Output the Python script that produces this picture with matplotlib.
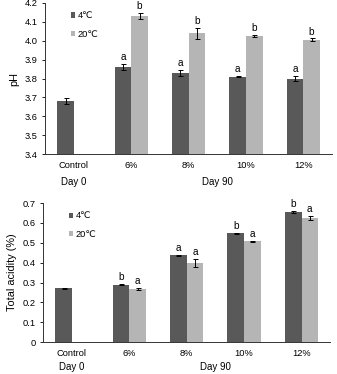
import matplotlib
matplotlib.use("Agg")
import matplotlib.pyplot as plt
import numpy as np

plt.rcParams['font.family'] = ['Liberation Sans', 'DejaVu Sans']

categories = ["Control", "6%", "8%", "10%", "12%"]
series_names = ["4℃", "20℃"]

ph_4 = [3.68, 3.86, 3.83, 3.81, 3.80]
ph_4_err = [0.015, 0.015, 0.015, 0.003, 0.015]
ph_20 = [None, 4.13, 4.04, 4.025, 4.005]
ph_20_err = [None, 0.015, 0.03, 0.007, 0.007]
ph_4_letters = ["", "a", "a", "a", "a"]
ph_20_letters = ["", "b", "b", "b", "b"]

ac_4 = [0.272, 0.29, 0.437, 0.548, 0.655]
ac_4_err = [0.002, 0.002, 0.003, 0.003, 0.004]
ac_20 = [None, 0.266, 0.40, 0.508, 0.627]
ac_20_err = [None, 0.005, 0.02, 0.003, 0.01]
ac_4_letters = ["", "b", "a", "b", "b"]
ac_20_letters = ["", "a", "a", "a", "a"]

dark = "#595959"
light = "#b5b5b5"

fig = plt.figure(figsize=(3.37, 3.74), dpi=100)
ax1 = fig.add_axes([0.134, 0.588, 0.851, 0.404])
ax2 = fig.add_axes([0.128, 0.085, 0.852, 0.372])

w = 0.29
fs = 6.7


def draw(ax, v4, e4, v20, e20, l4, l20, ylim, yticks, fmt, ylabel, offs, day_off):
    x = np.arange(len(categories))
    for i in range(len(categories)):
        ax.bar(x[i] - w / 2, v4[i], w, color=dark, label=series_names[0] if i == 0 else None, zorder=2)
        ax.errorbar(x[i] - w / 2, v4[i], yerr=e4[i], fmt='none', ecolor='black', elinewidth=0.7, capsize=1.8, capthick=0.7, zorder=3)
        if l4[i]:
            ax.text(x[i] - w / 2, v4[i] + e4[i] + offs, l4[i], ha='center', va='bottom', fontsize=7.2)
        if v20[i] is not None:
            ax.bar(x[i] + w / 2, v20[i], w, color=light, label=series_names[1] if i == 1 else None, zorder=2)
            ax.errorbar(x[i] + w / 2, v20[i], yerr=e20[i], fmt='none', ecolor='black', elinewidth=0.7, capsize=1.8, capthick=0.7, zorder=3)
            if l20[i]:
                ax.text(x[i] + w / 2, v20[i] + e20[i] + offs, l20[i], ha='center', va='bottom', fontsize=7.2)
    ax.set_xlim(-0.5, len(categories) - 0.5)
    ax.set_ylim(*ylim)
    ax.set_yticks(yticks)
    ax.set_yticklabels([fmt.format(t) for t in yticks], fontsize=fs)
    ax.set_xticks(x)
    ax.set_xticklabels(categories, fontsize=fs)
    ax.tick_params(axis='x', length=0, pad=5)
    ax.tick_params(axis='y', length=2.5, width=0.6, pad=3)
    for s in ['top', 'right']:
        ax.spines[s].set_visible(False)
    for s in ['left', 'bottom']:
        ax.spines[s].set_linewidth(0.7)
        ax.spines[s].set_color('#333333')
    ax.set_ylabel(ylabel, fontsize=7.8, labelpad=4)
    ax.legend(loc='upper left', bbox_to_anchor=(0.06, 1.0), frameon=False, fontsize=fs,
              handlelength=0.5, handleheight=0.5, handletextpad=0.2, labelspacing=1.0)
    tr = ax.get_xaxis_transform()
    for xc, txt in [(0, "Day 0"), (2.5, "Day 90")]:
        ax.annotate(txt, xy=(xc, 0), xycoords=tr, xytext=(0, day_off), textcoords='offset points',
                    ha='center', va='center', fontsize=7, annotation_clip=False)


draw(ax1, ph_4, ph_4_err, ph_20, ph_20_err, ph_4_letters, ph_20_letters,
     (3.4, 4.2), [3.4, 3.5, 3.6, 3.7, 3.8, 3.9, 4.0, 4.1, 4.2], "{:.1f}", "pH", 0.01, -20)
draw(ax2, ac_4, ac_4_err, ac_20, ac_20_err, ac_4_letters, ac_20_letters,
     (0, 0.7), [0, 0.1, 0.2, 0.3, 0.4, 0.5, 0.6, 0.7], "{:g}", "Total acidity (%)", 0.01, -17.5)

fig.savefig("out.png", dpi=100)
